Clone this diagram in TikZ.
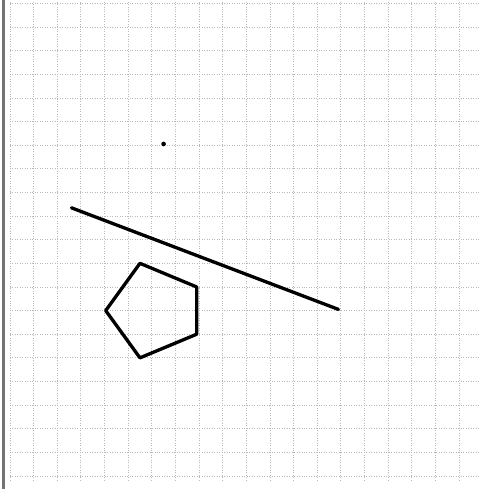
\documentclass[tikz,border=0pt]{standalone}
\usepackage{tikz}

\begin{document}
\begin{tikzpicture}[x=0.5cm, y=0.5cm,
    gridline/.style={densely dotted, gray!55, line width=0.5pt, step=0.5cm},
    shapeline/.style={line width=2pt, line join=round, line cap=round}]
  \useasboundingbox (-0.423,-0.55) rectangle (19.89,20.144);
  \draw[gridline] (0,-0.2) grid (19.89,20.144);
  \draw[black!55, line width=1.6pt] (-0.275,-0.55) -- (-0.275,20.144);
  \coordinate (pt) at (6.5,14.05);
  \coordinate (la) at (2.6,11.35);
  \coordinate (lb) at (13.9,7.05);
  \fill (pt) circle (1.4pt);
  \draw[shapeline] (la) -- (lb);
  \draw[shapeline] (5.5,9) -- (7.9,8) -- (7.9,6) -- (5.5,5) -- (4.05,7) -- cycle;
\end{tikzpicture}
\end{document}
